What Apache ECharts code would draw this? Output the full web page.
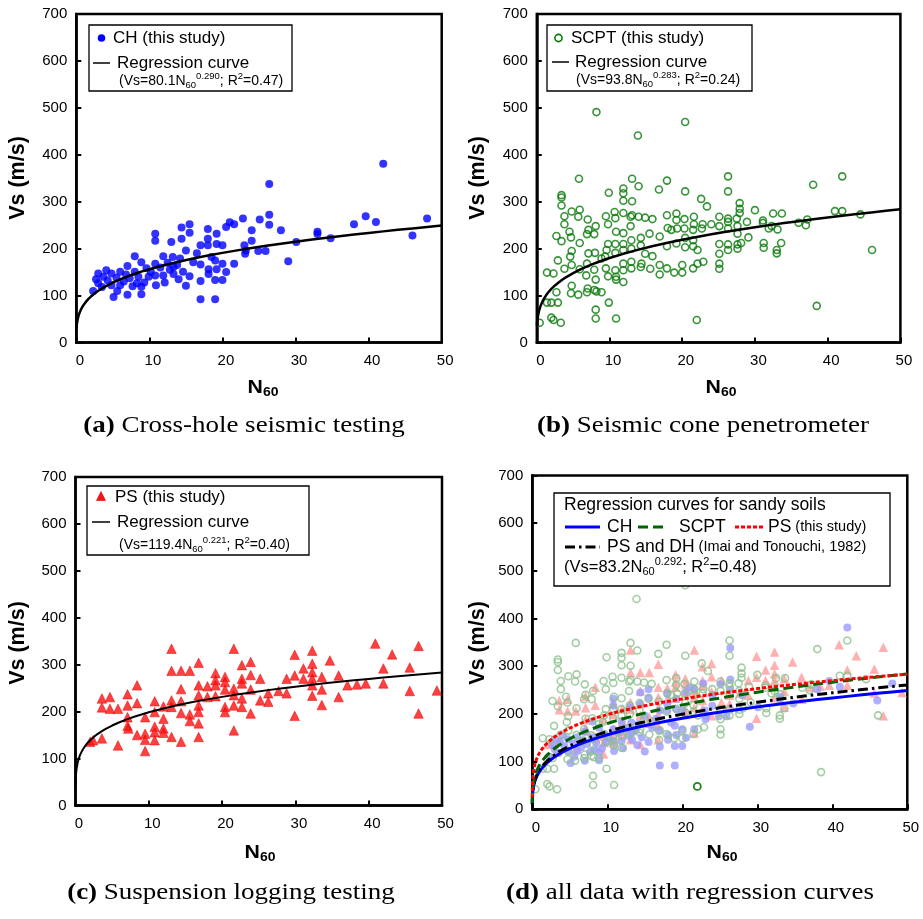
<!DOCTYPE html>
<html><head><meta charset="utf-8">
<script src="https://cdn.jsdelivr.net/npm/echarts@6/dist/echarts.min.js"></script>
<style>html,body{margin:0;padding:0;background:#fff}#c{width:923px;height:919px}</style>
</head><body><div id="c"></div>
<script>
// ---------------- DATA ----------------
const xTicks = [0, 10, 20, 30, 40, 50];
const xTickLabels = ['0', '10', '20', '30', '40', '50'];
const yTicks = [0, 100, 200, 300, 400, 500, 600, 700];
const yTickLabels = ['0', '100', '200', '300', '400', '500', '600', '700'];

// CH (cross-hole) [N60, Vs]
const chData = [
[2.3,110],[3.0,147],[3.0,126],[4.1,154],[3.7,140],[4.8,147],[4.8,122],[5.1,97],[6.0,151],[6.0,122],
[7.0,163],[7.0,102],[7.3,137],[8.0,184],[8.0,151],[8.3,126],[8.9,171],[8.9,119],[8.9,103],[9.6,158],
[9.9,140],[10.8,232],[10.8,217],[10.8,168],[10.8,143],[10.9,122],[11.9,184],[11.9,143],[12.1,128],[13.0,214],
[13.2,182],[13.3,161],[13.3,146],[14.2,179],[14.4,245],[14.4,221],[14.6,151],[15.0,196],[15.0,121],[15.5,252],
[15.5,234],[15.5,141],[16.0,171],[17.0,207],[17.0,166],[17.0,131],[17.0,92],[18.0,242],[18.0,221],[18.0,207],
[18.1,156],[18.1,146],[18.5,182],[19.0,175],[19.0,133],[19.0,92],[19.2,232],[19.2,210],[19.2,156],[20.0,207],
[20.0,168],[20.0,133],[20.5,246],[20.5,150],[21.0,256],[21.6,252],[21.6,168],[22.8,264],[23.0,207],[23.1,189],
[23.2,196],[24.0,239],[24.0,217],[25.1,262],[24.9,195],[25.9,195],[26.4,338],[26.4,272],[26.4,251],[28.0,239],
[29.0,173],[30.1,214],[33.0,236],[33.0,231],[34.8,222],[38.0,252],[39.6,269],[41.0,257],[42.0,381],[46.0,228],
[48.0,264],[2.7,135],[3.5,118],[4.3,132],[5.5,138],[5.6,110],[6.5,130],[6.8,145],[7.7,120],[8.5,140],
[9.3,128],[10.2,150],[11.5,160],[12.5,170],[13.8,165],[12.8,155],[16.5,190],[14.0,135]
];

// SCPT [N60, Vs]
const scptData = [
[8.2,491],[20.4,470],[13.9,441],[5.8,349],[13.1,349],[17.9,345],[14.0,333],[11.9,328],[11.9,318],[9.9,319],
[16.8,326],[20.4,322],[3.4,314],[3.4,309],[3.4,292],[11.9,302],[13.1,301],[22.6,306],[23.4,290],[4.8,279],
[5.9,283],[3.8,269],[5.7,268],[7.0,262],[3.8,252],[8.1,248],[9.5,269],[10.7,278],[11.9,276],[13.1,271],
[12.9,268],[14.0,268],[14.9,266],[15.9,263],[9.8,252],[10.8,265],[12.9,248],[17.9,271],[19.2,275],[19.2,261],
[20.3,263],[21.6,268],[21.6,252],[22.8,252],[24.0,252],[25.1,268],[7.1,240],[6.9,231],[7.9,231],[2.7,227],
[4.5,236],[4.7,224],[3.4,216],[10.9,236],[11.9,233],[13.0,218],[14.3,223],[15.5,232],[16.9,226],[18.0,244],
[18.5,240],[19.3,243],[20.3,243],[20.4,223],[21.5,240],[21.5,218],[22.7,243],[5.9,212],[4.8,195],[4.6,183],
[7.1,190],[8.0,191],[9.8,210],[10.8,210],[11.9,210],[9.6,197],[9.4,183],[10.8,191],[11.9,197],[13.0,200],
[14.3,207],[14.9,189],[15.9,184],[17.9,205],[19.2,211],[20.4,203],[21.5,205],[22.1,197],[2.9,175],[1.4,149],
[2.3,147],[3.8,157],[4.8,165],[5.9,156],[6.9,168],[6.8,143],[7.9,155],[8.9,179],[9.5,158],[9.8,141],
[10.8,154],[10.9,140],[10.9,134],[11.9,168],[11.9,154],[11.9,129],[13.0,172],[13.0,158],[14.3,161],[14.4,168],
[15.6,157],[16.9,145],[16.9,165],[17.9,158],[18.9,149],[20.0,149],[20.0,165],[21.5,158],[22.1,168],[22.9,172],
[4.8,121],[4.7,105],[5.7,102],[6.9,107],[7.0,115],[7.9,112],[8.2,109],[8.9,107],[8.1,134],[2.7,107],
[1.4,85],[2.0,85],[2.9,85],[9.9,85],[8.1,70],[8.1,51],[10.9,51],[0.4,42],[2.0,53],[2.3,48],
[3.3,42],[22.0,48],[25.1,248],[25.1,210],[25.1,189],[25.1,168],[25.1,157],
[26.3,354],[26.3,322],[27.9,297],[27.9,285],[27.9,276],[26.3,264],[26.3,257],[27.5,264],[26.3,243],[27.6,248],
[27.6,232],[28.9,257],[29.1,224],[30.0,282],[31.1,260],[31.1,255],[31.9,243],[32.3,248],[32.5,275],[33.7,275],
[33.1,241],[26.3,209],[26.3,197],[27.6,209],[27.6,200],[28.1,212],[31.2,212],[31.2,202],[33.0,197],[33.0,190],
[33.6,212],[36.0,255],[37.0,250],[37.2,262],[38.0,336],[38.5,78],[41.0,280],[42.0,354],[42.0,280],[44.5,273],
[46.1,197]
];

// PS (suspension logging) [N60, Vs]
const psData = [
[2.0,136],[2.4,139],[3.6,143],[3.6,228],[3.6,209],[4.7,231],[4.7,206],[5.8,206],[5.8,128],[7.1,237],
[7.1,213],[7.1,188],[7.1,170],[7.2,164],[8.4,256],[8.4,218],[8.4,150],[9.5,188],[9.5,153],[9.5,140],
[9.5,116],[10.8,222],[10.8,199],[10.8,168],[10.8,156],[10.8,139],[12.0,211],[12.0,185],[12.0,164],[12.0,155],
[13.1,334],[13.1,224],[13.1,210],[13.1,146],[13.1,287],[14.4,287],[14.4,248],[14.4,222],[14.4,197],[14.4,136],
[15.6,287],[15.6,194],[15.6,180],[16.8,304],[16.8,256],[16.8,235],[16.8,213],[16.8,199],[16.8,175],[16.8,146],
[18.0,254],[18.0,231],[19.1,282],[19.1,267],[19.1,256],[19.1,233],[20.4,274],[20.4,263],[20.4,210],[20.4,199],
[20.4,247],[21.6,334],[21.6,249],[21.6,235],[21.6,213],[21.6,160],[22.7,299],[22.7,270],[22.7,260],[22.7,228],
[22.7,210],[23.9,306],[23.9,278],[23.9,247],[23.9,196],[25.2,270],[25.2,224],[26.3,239],[26.3,221],
[27.7,244],[28.8,270],[28.8,239],[29.9,321],[29.9,277],[29.9,191],[31.1,292],[31.1,270],[32.3,330],[32.3,302],
[32.3,284],[32.3,270],[32.3,256],[32.3,234],[33.6,274],[33.6,247],[33.6,214],[34.7,309],[35.9,277],[35.9,231],
[37.1,256],[38.4,258],[39.6,260],[40.9,345],[42.0,292],[42.0,260],[43.2,322],[45.6,294],[45.6,244],[46.8,340],
[46.8,196],[49.3,245]
];

// highlighted SCPT point in panel (d)
const dHighlight = [[22.0, 48]];

// regression coefficients: Vs = a * N60^b ; R^2
const regCH = [80.1, 0.290, 0.47];
const regSCPT = [93.8, 0.283, 0.24];
const regPS = [119.4, 0.221, 0.40];
const regImai = [83.2, 0.292, 0.48];
// N60 sample positions for drawing the regression curves
const curveN = [0.001,0.003,0.01,0.02,0.03,0.05,0.08,0.12,0.2,0.3,0.45,0.6,0.8,1,1.3,1.7,2,2.5,3,3.5,4,5,6,7,8,9,10,12,14,16,18,20,22,24,26,28,30,32,34,36,38,40,42,44,46,48,50];

// ---------------- CHART ----------------
const FONT = '"Liberation Sans", Arial, sans-serif';
const SERIF = '"Liberation Serif", "Times New Roman", serif';
function curve(reg, nmin) {
  return curveN.filter(n => n >= nmin).map(n => [n, reg[0] * Math.pow(n, reg[1])]);
}
const grids = [
  {left: 76.3, top: 14, width: 365.4, height: 328.5},
  {left: 536.8, top: 14, width: 363.6, height: 328.5},
  {left: 75.5, top: 477, width: 366.5, height: 328.5},
  {left: 532.3, top: 475.5, width: 375, height: 333.8}
].map(g => Object.assign({show: true, borderColor: '#000', borderWidth: 2.5, backgroundColor: 'rgba(0,0,0,0)'}, g));

function xAx(i) {
  return {gridIndex: i, type: 'value', min: 0, max: 50, interval: 10,
    axisLine: {show: true, onZero: false, lineStyle: {color: '#000', width: 2.5}},
    axisTick: {show: true, inside: true, length: 5, lineStyle: {color: '#000', width: 2}},
    axisLabel: {fontSize: 15, color: '#000', fontFamily: FONT, margin: 11, padding: [0, 0, 0, 7],
      formatter: v => xTickLabels[xTicks.indexOf(v)]},
    splitLine: {show: false}};
}
function yAx(i) {
  return {gridIndex: i, type: 'value', min: 0, max: 700, interval: 100,
    axisLine: {show: true, onZero: false, lineStyle: {color: '#000', width: 2.5}},
    axisTick: {show: true, inside: true, length: 5, lineStyle: {color: '#000', width: 2}},
    axisLabel: {fontSize: 15, color: '#000', fontFamily: FONT, margin: 9, padding: [6, 0, 0, 0],
      formatter: v => yTickLabels[yTicks.indexOf(v)]},
    splitLine: {show: false}};
}
function lineS(i, data, color, width, type) {
  return {type: 'line', xAxisIndex: i, yAxisIndex: i, data: data, showSymbol: false, symbol: 'none',
    lineStyle: {color: color, width: width, type: type || 'solid'}, z: 5, clip: true, animation: false};
}
const emptyFill = 'rgba(255,255,255,0)';
const series = [
  {type: 'scatter', xAxisIndex: 0, yAxisIndex: 0, data: chData, symbol: 'circle', symbolSize: 8,
    itemStyle: {color: '#0000ff'}, z: 2},
  lineS(0, curve(regCH, 0.03), '#000', 2.5),
  {type: 'scatter', xAxisIndex: 1, yAxisIndex: 1, data: scptData, symbol: 'circle', symbolSize: 7,
    itemStyle: {color: emptyFill, borderColor: '#087808', borderWidth: 1.6}, z: 2},
  lineS(1, curve(regSCPT, 0.03), '#000', 2.5),
  {type: 'scatter', xAxisIndex: 2, yAxisIndex: 2, data: psData, symbol: 'triangle', symbolSize: 9.5,
    itemStyle: {color: '#ff1010', borderColor: '#e00000', borderWidth: 0.6}, z: 2},
  lineS(2, curve(regPS, 0.01), '#000', 2),
  {type: 'scatter', xAxisIndex: 3, yAxisIndex: 3, data: psData, symbol: 'triangle', symbolSize: 9.5,
    itemStyle: {color: '#ff9c9c'}, z: 2},
  {type: 'scatter', xAxisIndex: 3, yAxisIndex: 3, data: chData, symbol: 'circle', symbolSize: 8,
    itemStyle: {color: '#9b9bff'}, z: 2},
  {type: 'scatter', xAxisIndex: 3, yAxisIndex: 3, data: scptData, symbol: 'circle', symbolSize: 7,
    itemStyle: {color: emptyFill, borderColor: '#8cc08c', borderWidth: 1.6}, z: 2},
  {type: 'scatter', xAxisIndex: 3, yAxisIndex: 3, data: dHighlight, symbol: 'circle', symbolSize: 7,
    itemStyle: {color: emptyFill, borderColor: '#087808', borderWidth: 1.8}, z: 3},
  lineS(3, curve(regCH, 0.001), '#0000ff', 3),
  lineS(3, curve(regImai, 0.001), '#000', 3, [10, 4, 2.5, 4]),
  lineS(3, curve(regSCPT, 0.001), '#006400', 3, [10, 5]),
  lineS(3, curve(regPS, 0.001), '#ff0000', 3, [4, 2])
];

// -------- text / legend graphics ---------
function richFormula(reg, main, small) {
  return {
    text: '{n|(Vs=' + reg[0].toFixed(1) + 'N}{sb|60}{sp|' + reg[1].toFixed(3) + '}{n|; R}{sp|2}{n|=' + reg[2].toFixed(2) + ')}',
    rich: {
      n: {fontSize: main, fontFamily: FONT, lineHeight: main + 5, fill: '#000'},
      sb: {fontSize: small, fontFamily: FONT, lineHeight: small, verticalAlign: 'bottom', fill: '#000'},
      sp: {fontSize: small, fontFamily: FONT, lineHeight: small, verticalAlign: 'top', fill: '#000'}
    }
  };
}
function txt(x, y, s, size) {
  return {type: 'text', x: x, y: y, z: 20,
    style: {text: s, fontSize: size, fontFamily: FONT, fill: '#000', align: 'left', verticalAlign: 'middle'}};
}
function rtxt(x, y, rf, align) {
  return {type: 'text', x: x, y: y, z: 20, style: Object.assign({align: align || 'left', verticalAlign: 'middle', fill: '#000'}, rf)};
}
function mixTxt(x, y, big, small, bigSize, smallSize) {
  return {type: 'text', x: x, y: y, z: 20, style: {text: '{m|' + big + '}{s| ' + small + '}', align: 'left', verticalAlign: 'middle',
    rich: {m: {fontSize: bigSize, fontFamily: FONT, fill: '#000'}, s: {fontSize: smallSize, fontFamily: FONT, fill: '#000'}}}};
}
function box(x, y, w, h) {
  return {type: 'rect', z: 15, shape: {x: x, y: y, width: w, height: h}, style: {fill: '#fff', stroke: '#000', lineWidth: 1.3}};
}
function ln(x1, y1, x2, y2, color, w, dash) {
  return {type: 'line', z: 20, shape: {x1: x1, y1: y1, x2: x2, y2: y2}, style: {stroke: color, lineWidth: w, lineDash: dash || null}};
}
function vsLabel(x, y) {
  return {type: 'text', x: x, y: y, rotation: Math.PI / 2, z: 20,
    style: {text: 'Vs (m/s)', fontSize: 21.5, fontWeight: 'bold', fontFamily: FONT, fill: '#000', align: 'center', verticalAlign: 'middle'}};
}
function nLabel(x, y) {
  return {type: 'text', x: x, y: y, z: 20, scaleX: 1.12, style: {text: '{b|N}{s|60}', align: 'center', verticalAlign: 'middle',
    rich: {b: {fontSize: 19, fontWeight: 'bold', fontFamily: FONT, lineHeight: 22},
           s: {fontSize: 12.5, fontWeight: 'bold', fontFamily: FONT, lineHeight: 12, verticalAlign: 'bottom'}}}};
}
function caption(x, y, tag, s) {
  return {type: 'text', x: x, y: y, z: 20, scaleX: 1.2, style: {text: '{b|' + tag + '}{r| ' + s + '}', align: 'center', verticalAlign: 'middle',
    rich: {b: {fontSize: 22.5, fontWeight: 'bold', fontFamily: SERIF}, r: {fontSize: 22.5, fontFamily: SERIF}}}};
}

const graphic = [
  // panel a legend
  box(89, 25, 203, 66),
  {type: 'circle', z: 20, shape: {cx: 101.5, cy: 38, r: 3.8}, style: {fill: '#0000ff'}},
  txt(113, 38, 'CH (this study)', 17),
  ln(93, 63, 110, 63, '#000', 1.5),
  txt(117, 63, 'Regression curve', 17),
  rtxt(119, 81, richFormula(regCH, 14, 9.5)),
  // panel b legend
  box(547, 25, 205, 66),
  {type: 'circle', z: 20, shape: {cx: 558.5, cy: 38, r: 3.6}, style: {fill: '#fff', stroke: '#087808', lineWidth: 1.6}},
  txt(571, 38, 'SCPT (this study)', 17),
  ln(552, 62, 569, 62, '#000', 1.5),
  txt(575, 62, 'Regression curve', 17),
  rtxt(576, 80, richFormula(regSCPT, 14, 9.5)),
  // panel c legend
  box(87, 486, 222, 69),
  {type: 'polygon', z: 20, shape: {points: [[101, 491.5], [96.5, 500.5], [105.5, 500.5]]}, style: {fill: '#ff1010', stroke: '#e00000', lineWidth: 0.6}},
  txt(115, 497, 'PS (this study)', 17),
  ln(92, 522, 110, 522, '#000', 1.5),
  txt(117, 522, 'Regression curve', 17),
  rtxt(119, 545, richFormula(regPS, 14, 9.5)),
  // panel d legend
  box(554, 493, 336, 93),
  txt(564, 505, 'Regression curves for sandy soils', 17.5),
  ln(565, 527, 600, 527, '#0000ff', 3),
  txt(607, 527, 'CH', 17.5),
  ln(638, 527, 666, 527, '#006400', 3, [10, 5]),
  txt(679, 527, 'SCPT', 17.5),
  ln(735, 527, 763, 527, '#ff0000', 3, [4, 2]),
  mixTxt(768, 527, 'PS', '(this study)', 17.5, 14.5),
  ln(565, 547, 600, 547, '#000', 3, [10, 4, 2.5, 4]),
  mixTxt(607, 547, 'PS and DH', '(Imai and Tonouchi, 1982)', 17.5, 14.5),
  rtxt(564, 567, richFormula(regImai, 16.5, 11)),
  // axis titles
  vsLabel(18, 178), vsLabel(478, 178), vsLabel(18, 643), vsLabel(478, 643),
  nLabel(263, 388), nLabel(721, 388), nLabel(260, 853), nLabel(722, 853),
  // captions
  caption(244, 426, '(a)', 'Cross-hole seismic testing'),
  caption(703, 426, '(b)', 'Seismic cone penetrometer'),
  caption(231, 893, '(c)', 'Suspension logging testing'),
  caption(690, 893, '(d)', 'all data with regression curves')
];

const chart = echarts.init(document.getElementById('c'), null, {renderer: 'canvas'});
chart.setOption({
  animation: false,
  backgroundColor: '#fff',
  grid: grids,
  xAxis: [0, 1, 2, 3].map(xAx),
  yAxis: [0, 1, 2, 3].map(yAx),
  series: series,
  graphic: graphic
});
</script>
</body></html>
